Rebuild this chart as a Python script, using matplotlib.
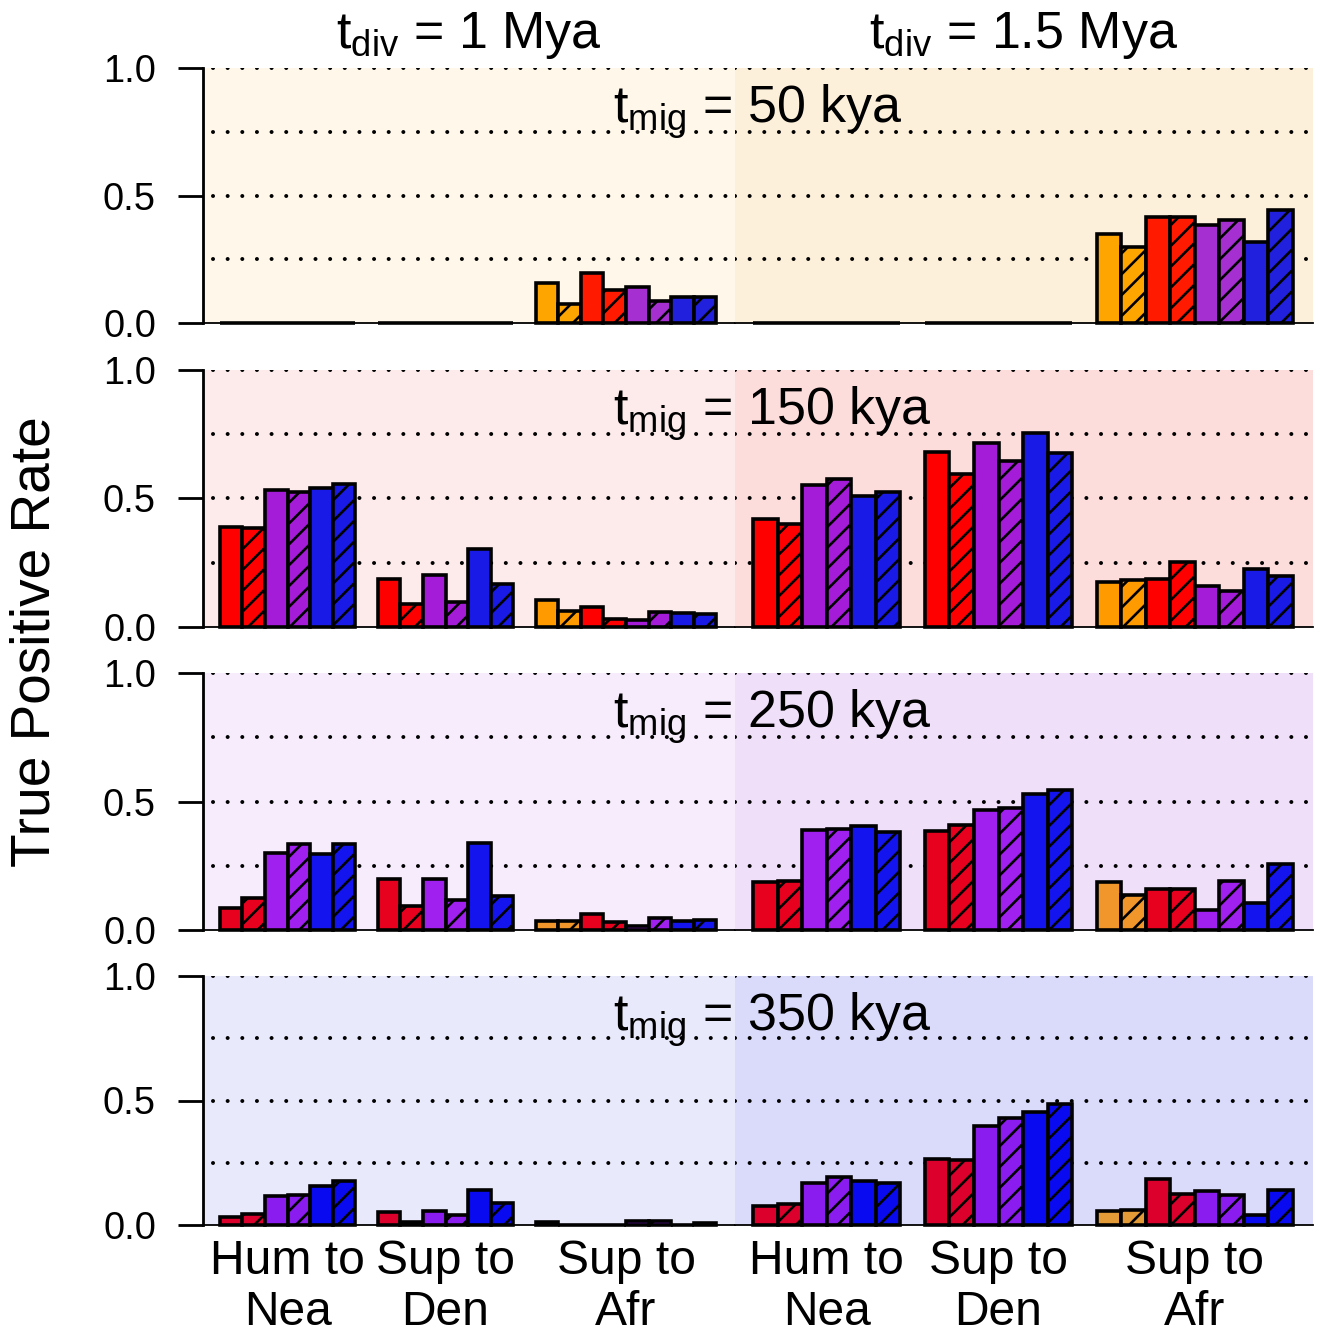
import matplotlib.pyplot as plt
import matplotlib.transforms as mtransforms

plt.rcParams['font.family'] = ['Liberation Sans', 'DejaVu Sans']
plt.rcParams['mathtext.fontset'] = 'custom'
plt.rcParams['mathtext.rm'] = 'Liberation Sans'
plt.rcParams['hatch.linewidth'] = 1.5

DPI = 125
W, H = 1321, 1335


def pt(px):
    # pixel sizes to points at the output dpi
    return px * 72 / DPI


mig_times = ['50', '150', '250', '350']
div_times = ['1', '1.5']
group_names = ['Hum to\nNea', 'Sup to\nDen', 'Sup to\nAfr']

# True positive rates; one row per t_mig (50, 150, 250, 350 kya)
# order: solid / hatched for each colour
hum_nea_div1 = [
    [0, 0, 0, 0, 0, 0],
    [0.39, 0.386, 0.533, 0.527, 0.54, 0.558],
    [0.087, 0.123, 0.298, 0.336, 0.295, 0.336],
    [0.032, 0.044, 0.115, 0.122, 0.155, 0.175],
]
sup_den_div1 = [
    [0, 0, 0, 0, 0, 0],
    [0.186, 0.088, 0.204, 0.098, 0.303, 0.166],
    [0.197, 0.093, 0.197, 0.115, 0.34, 0.131],
    [0.054, 0.013, 0.058, 0.04, 0.142, 0.088],
]
sup_afr_div1 = [
    [0.155, 0.074, 0.198, 0.129, 0.142, 0.087, 0.103, 0.103],
    [0.107, 0.062, 0.077, 0.03, 0.027, 0.059, 0.053, 0.049],
    [0.034, 0.034, 0.061, 0.032, 0.015, 0.047, 0.034, 0.038],
    [0.013, 0.0, 0.0, 0.002, 0.018, 0.018, 0.002, 0.008],
]
hum_nea_div15 = [
    [0, 0, 0, 0, 0, 0],
    [0.42, 0.402, 0.552, 0.577, 0.509, 0.526],
    [0.185, 0.191, 0.391, 0.394, 0.405, 0.381],
    [0.075, 0.084, 0.169, 0.193, 0.178, 0.169],
]
sup_den_div15 = [
    [0, 0, 0, 0, 0, 0],
    [0.679, 0.596, 0.715, 0.646, 0.753, 0.677],
    [0.384, 0.407, 0.465, 0.474, 0.528, 0.546],
    [0.265, 0.26, 0.397, 0.431, 0.454, 0.485],
]
sup_afr_div15 = [
    [0.349, 0.297, 0.417, 0.417, 0.386, 0.402, 0.318, 0.444],
    [0.175, 0.182, 0.188, 0.252, 0.161, 0.14, 0.225, 0.199],
    [0.185, 0.135, 0.159, 0.159, 0.078, 0.189, 0.104, 0.256],
    [0.058, 0.061, 0.186, 0.124, 0.136, 0.122, 0.041, 0.139],
]

# colours per t_mig row
orange = ['#ffa500', '#ff9a00', '#f0962a', '#e29b36']
red = ['#ff1a00', '#ff0000', '#e8001f', '#dc002c']
purple = ['#a52fd0', '#a51cd8', '#a020f0', '#8b1cf0']
blue = ['#2020dd', '#1a1ae6', '#1414ee', '#0a0af0']
bg_left = ['#fef7ea', '#fdebeb', '#f7ecfc', '#e9e9fc']
bg_right = ['#fdf0da', '#fddcdc', '#efdff9', '#dadafb']

# panel pixel rows: y of 1.0 and y of 0.0
row_top = [68, 370, 673, 976]
row_bot = [323, 627, 930, 1225]
half_x = [(203, 735), (735, 1313)]
group_start = [0, 7, 14]

fig = plt.figure(figsize=(W / DPI, H / DPI), dpi=DPI)

for r in range(4):
    for h in range(2):
        x0, x1 = half_x[h]
        ax = fig.add_axes([x0 / W, 1 - row_bot[r] / H, (x1 - x0) / W,
                           (row_bot[r] - row_top[r]) / H])
        ax.set_facecolor(bg_left[r] if h == 0 else bg_right[r])
        ax.set_xlim(-0.75, 22.83)
        ax.set_ylim(0, 1)
        for s in ax.spines.values():
            s.set_visible(False)
        ax.set_xticks([])

        if h == 0:
            ax.spines['left'].set_visible(True)
            ax.spines['left'].set_linewidth(pt(2.8))
            ax.spines['left'].set_bounds(0, 1)
            ax.set_yticks([0, 0.5, 1.0])
            ax.set_yticklabels(['0.0', '0.5', '1.0'], fontsize=pt(38))
            ax.tick_params(axis='y', length=pt(25), width=pt(2.8), pad=pt(22))
        else:
            ax.set_yticks([])

        # dotted reference lines
        for yv in (0.25, 0.5, 0.75, 1.0):
            ax.axhline(yv, xmin=0.019 if h == 0 else 0, color='black',
                       lw=pt(4.0), ls=(0, (0.01, 3.65)),
                       dash_capstyle='round', zorder=1)
        ax.axhline(0, color='black', lw=pt(1.8), zorder=2, clip_on=False)

        if h == 0:
            groups = [hum_nea_div1[r], sup_den_div1[r], sup_afr_div1[r]]
        else:
            groups = [hum_nea_div15[r], sup_den_div15[r], sup_afr_div15[r]]

        for g, vals in enumerate(groups):
            cols = [red[r], purple[r], blue[r]]
            if len(vals) == 8:
                cols = [orange[r]] + cols
            for i, v in enumerate(vals):
                ax.bar(group_start[g] + i + 0.5, v, width=1.0,
                       color=cols[i // 2], edgecolor='black',
                       linewidth=pt(3.6), hatch='//' if i % 2 else None,
                       zorder=3, clip_on=False)

        if r == 3:
            tr = mtransforms.blended_transform_factory(ax.transData,
                                                       fig.transFigure)
            for g, name in enumerate(group_names):
                n = 8 if g == 2 else 6
                xc = group_start[g] + n / 2
                line1, line2 = name.split('\n')
                ax.text(xc, 1 - 1274 / H, line1, transform=tr, ha='center',
                        va='baseline', fontsize=pt(48))
                ax.text(xc, 1 - 1325 / H, line2, transform=tr, ha='center',
                        va='baseline', fontsize=pt(48))

    fig.text(613 / W, 1 - (row_top[r] + 55) / H,
             r'$\mathregular{t_{mig}}$ = ' + mig_times[r] + ' kya',
             ha='left', va='baseline', fontsize=pt(52))

for h in range(2):
    x0, x1 = half_x[h]
    fig.text((x0 + x1) / 2 / W, 1 - 48 / H,
             r'$\mathregular{t_{div}}$ = ' + div_times[h] + ' Mya',
             ha='center', va='baseline', fontsize=pt(52))

fig.text(36 / W, 1 - 642 / H, 'True Positive Rate', rotation=90,
         ha='center', va='center', fontsize=pt(55))

fig.savefig('out.png', dpi=DPI)
plt.close(fig)
